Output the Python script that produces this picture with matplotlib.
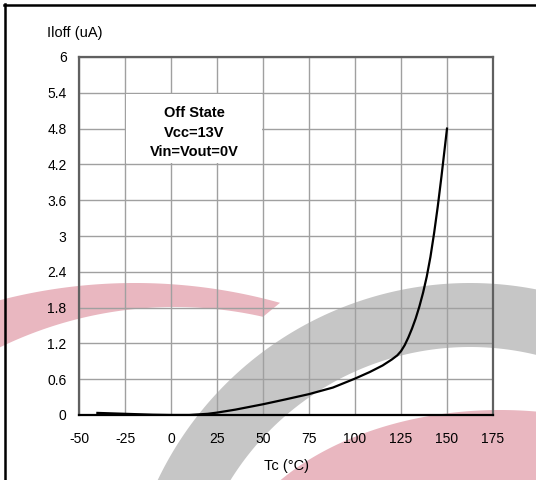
#!/usr/bin/env python

import numpy as np
import matplotlib
matplotlib.use('Agg')
import matplotlib.pyplot as plt
from matplotlib.patches import Polygon, Rectangle
from matplotlib.lines import Line2D

# data
temp = [-40, -25, -10, 0, 10, 20, 25, 35, 50, 62, 75, 88, 100, 108, 115,
        120, 123, 125, 127, 129, 131, 133, 135, 137, 139, 141, 143, 145,
        147, 148.5, 150]
iloff = [0.035, 0.02, 0.005, 0.0, 0.0, 0.02, 0.04, 0.09, 0.18, 0.26, 0.35,
         0.46, 0.61, 0.72, 0.83, 0.93, 1.0, 1.07, 1.17, 1.3, 1.45, 1.62,
         1.82, 2.05, 2.32, 2.65, 3.05, 3.5, 4.0, 4.4, 4.8]

x_ticks = [-50, -25, 0, 25, 50, 75, 100, 125, 150, 175]
y_ticks = [0, 0.6, 1.2, 1.8, 2.4, 3, 3.6, 4.2, 4.8, 5.4, 6]
y_labels = ['0', '0.6', '1.2', '1.8', '2.4', '3', '3.6', '4.2', '4.8', '5.4', '6']
note = 'Off State\nVcc=13V\nVin=Vout=0V'

W, H = 536, 480


def px(pts):
    # image pixel coords -> figure fraction
    return [(x / W, 1 - y / H) for x, y in pts]


def circle_band(cx, cy, r_out, r_in, t0, t1, n=200):
    t = np.linspace(t0, t1, n)
    outer = [(cx + r_out * np.cos(a), cy - r_out * np.sin(a)) for a in t]
    inner = [(cx + r_in * np.cos(a), cy - r_in * np.sin(a)) for a in t[::-1]]
    return outer + inner


def ellipse_band(cx, cy, a1, b1, a2, b2, n=200):
    t = np.linspace(0, np.pi, n)
    outer = [(cx + a1 * np.cos(a), cy - b1 * np.sin(a)) for a in t]
    inner = [(cx + a2 * np.cos(a), cy - b2 * np.sin(a)) for a in t[::-1]]
    return outer + inner


def crescent(n=200):
    # outer circle (135, 823) r 540, inner circle (175, 707) r 400
    xs = np.linspace(-60, 280, n)
    top = [(x, 823 - np.sqrt(540**2 - (x - 135)**2)) for x in xs]
    xs2 = np.linspace(263, -60, n)
    bot = [(x, 707 - np.sqrt(400**2 - (x - 175)**2)) for x in xs2]
    return top + bot


def main():
    plt.rcParams['font.family'] = ['Liberation Sans', 'DejaVu Sans']
    plt.rcParams['axes.unicode_minus'] = False

    fig = plt.figure(figsize=(W / 100, H / 100), dpi=100)
    fig.patch.set_facecolor('white')

    # watermark, behind the axes
    pink = '#e9b7c0'
    grey = '#c6c6c6'
    fig.patches.append(Polygon(px(crescent()), closed=True, transform=fig.transFigure,
                               facecolor=pink, edgecolor='none', zorder=-2))
    fig.patches.append(Polygon(px(circle_band(470, 629, 346, 282, 0, np.pi)), closed=True,
                               transform=fig.transFigure, facecolor=grey,
                               edgecolor='none', zorder=-2))
    fig.patches.append(Polygon(px(ellipse_band(500, 595, 280, 185, 180, 80)), closed=True,
                               transform=fig.transFigure, facecolor=pink,
                               edgecolor='none', zorder=-2))

    # border of the clipped picture
    fig.lines.append(Line2D([4 / W, 1], [1 - 5 / H, 1 - 5 / H], transform=fig.transFigure,
                            color='black', lw=1.8))
    fig.lines.append(Line2D([5 / W, 5 / W], [1 - 4 / H, 0], transform=fig.transFigure,
                            color='black', lw=1.8))

    ax = fig.add_axes([79 / W, 65 / H, 414 / W, 358 / H])
    ax.set_facecolor('none')
    ax.set_zorder(1)

    ax.plot(temp, iloff, color='black', lw=1.6, zorder=5)

    ax.set_xlim(-50, 175)
    ax.set_ylim(0, 6)
    ax.set_xticks(x_ticks)
    ax.set_yticks(y_ticks)
    ax.set_yticklabels(y_labels)
    ax.tick_params(length=0, labelsize=10, colors='black')
    ax.tick_params(axis='x', pad=12.5)
    ax.tick_params(axis='y', pad=9)
    ax.grid(True, color='#a0a0a0', lw=1.0)
    ax.set_axisbelow(True)

    for s in ['left', 'top', 'right']:
        ax.spines[s].set_color('#606060')
        ax.spines[s].set_linewidth(1.6)
    ax.spines['bottom'].set_color('black')
    ax.spines['bottom'].set_linewidth(1.6)

    # white box behind the note
    ax.add_patch(Rectangle((-24.5, 4.22), 74.0, 1.16, facecolor='white',
                           edgecolor='none', zorder=3))
    ax.text(12.5, 4.73, note, ha='center', va='center', fontsize=10.5,
            fontweight='bold', linespacing=1.5, zorder=4)

    fig.text(47 / W, 1 - 33 / H, 'Iloff (uA)', ha='left', va='center', fontsize=10.5)
    fig.text(286 / W, 1 - 466 / H, 'Tc (°C)', ha='center', va='center', fontsize=10.5)

    fig.savefig('out.png', dpi=100)


if __name__ == '__main__':
    main()
